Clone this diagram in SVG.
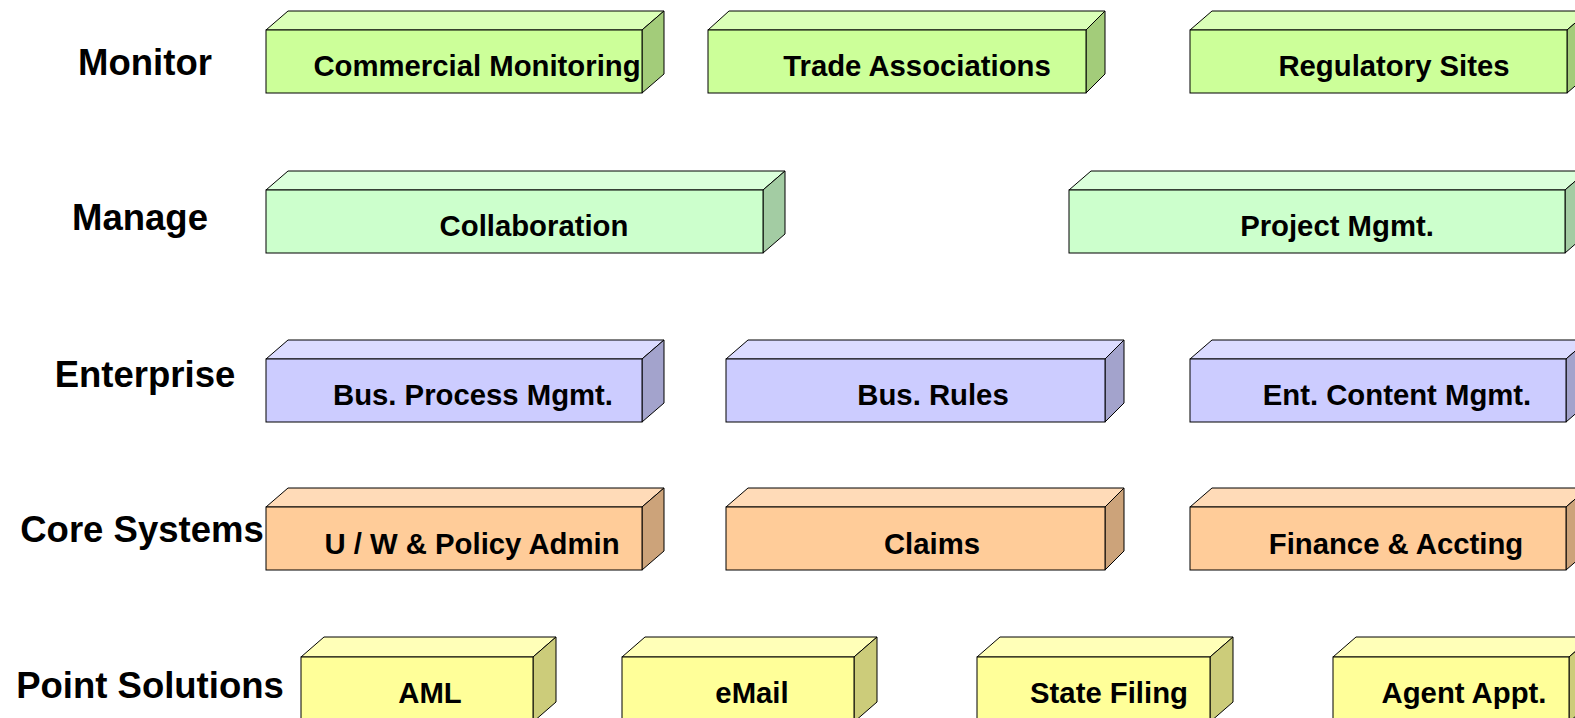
<svg xmlns="http://www.w3.org/2000/svg" width="1575" height="718" viewBox="0 0 1575 718">
<style>
  .lbl{font-family:"Liberation Sans",Arial,sans-serif;font-weight:bold;font-size:36.5px;fill:#000;text-anchor:middle}
  .txt{font-family:"Liberation Sans",Arial,sans-serif;font-weight:bold;font-size:29.3px;fill:#000;text-anchor:middle}
  .f,.t,.s{stroke:#000;stroke-width:1;stroke-linejoin:miter}
  .mon .f{fill:#CCFF99}.mon .t{fill:#DBFFB8}.mon .s{fill:#A3CC7A}
  .man .f{fill:#CCFFCC}.man .t{fill:#DBFFDB}.man .s{fill:#A3CCA3}
  .ent .f{fill:#CCCCFF}.ent .t{fill:#DBDBFF}.ent .s{fill:#A3A3CC}
  .cor .f{fill:#FFCC99}.cor .t{fill:#FFDBB8}.cor .s{fill:#CCA37A}
  .pnt .f{fill:#FFFF99}.pnt .t{fill:#FFFFB8}.pnt .s{fill:#CCCC7A}
</style>
<rect x="0" y="0" width="1575" height="718" fill="#ffffff"/>

<g id="row-labels">
  <text class="lbl" x="145" y="75">Monitor</text>
  <text class="lbl" x="140" y="230">Manage</text>
  <text class="lbl" x="145" y="387">Enterprise</text>
  <text class="lbl" x="142" y="542">Core Systems</text>
  <text class="lbl" x="150" y="698">Point Solutions</text>
</g>

<!-- Monitor row: front y 30..93 -->
<g id="commercial-monitoring" class="mon">
  <path class="t" d="M266,30 L288,11 L664,11 L642,30 Z"/>
  <path class="s" d="M642,30 L664,11 L664,74 L642,93 Z"/>
  <rect class="f" x="266" y="30" width="376" height="63"/>
  <text class="txt" x="477" y="76">Commercial Monitoring</text>
</g>
<g id="trade-associations" class="mon">
  <path class="t" d="M708,30 L729,11 L1105,11 L1086,30 Z"/>
  <path class="s" d="M1086,30 L1105,11 L1105,74 L1086,93 Z"/>
  <rect class="f" x="708" y="30" width="378" height="63"/>
  <text class="txt" x="917" y="76">Trade Associations</text>
</g>
<g id="regulatory-sites" class="mon">
  <path class="t" d="M1190,30 L1212,11 L1589,11 L1567,30 Z"/>
  <path class="s" d="M1567,30 L1589,11 L1589,74 L1567,93 Z"/>
  <rect class="f" x="1190" y="30" width="377" height="63"/>
  <text class="txt" x="1394" y="76">Regulatory Sites</text>
</g>

<!-- Manage row: front y 190..253 -->
<g id="collaboration" class="man">
  <path class="t" d="M266,190 L288,171 L785,171 L763,190 Z"/>
  <path class="s" d="M763,190 L785,171 L785,234 L763,253 Z"/>
  <rect class="f" x="266" y="190" width="497" height="63"/>
  <text class="txt" x="534" y="236">Collaboration</text>
</g>
<g id="project-mgmt" class="man">
  <path class="t" d="M1069,190 L1091,171 L1587,171 L1565,190 Z"/>
  <path class="s" d="M1565,190 L1587,171 L1587,234 L1565,253 Z"/>
  <rect class="f" x="1069" y="190" width="496" height="63"/>
  <text class="txt" x="1337" y="236">Project Mgmt.</text>
</g>

<!-- Enterprise row: front y 359..422 -->
<g id="bus-process-mgmt" class="ent">
  <path class="t" d="M266,359 L288,340 L664,340 L642,359 Z"/>
  <path class="s" d="M642,359 L664,340 L664,403 L642,422 Z"/>
  <rect class="f" x="266" y="359" width="376" height="63"/>
  <text class="txt" x="473" y="405">Bus. Process Mgmt.</text>
</g>
<g id="bus-rules" class="ent">
  <path class="t" d="M726,359 L748,340 L1124,340 L1105,359 Z"/>
  <path class="s" d="M1105,359 L1124,340 L1124,403 L1105,422 Z"/>
  <rect class="f" x="726" y="359" width="379" height="63"/>
  <text class="txt" x="933" y="405">Bus. Rules</text>
</g>
<g id="ent-content-mgmt" class="ent">
  <path class="t" d="M1190,359 L1212,340 L1588,340 L1566,359 Z"/>
  <path class="s" d="M1566,359 L1588,340 L1588,403 L1566,422 Z"/>
  <rect class="f" x="1190" y="359" width="376" height="63"/>
  <text class="txt" x="1397" y="405">Ent. Content Mgmt.</text>
</g>

<!-- Core Systems row: front y 507..570 -->
<g id="uw-policy-admin" class="cor">
  <path class="t" d="M266,507 L288,488 L664,488 L642,507 Z"/>
  <path class="s" d="M642,507 L664,488 L664,551 L642,570 Z"/>
  <rect class="f" x="266" y="507" width="376" height="63"/>
  <text class="txt" x="472" y="554">U / W &amp; Policy Admin</text>
</g>
<g id="claims" class="cor">
  <path class="t" d="M726,507 L748,488 L1124,488 L1105,507 Z"/>
  <path class="s" d="M1105,507 L1124,488 L1124,551 L1105,570 Z"/>
  <rect class="f" x="726" y="507" width="379" height="63"/>
  <text class="txt" x="932" y="554">Claims</text>
</g>
<g id="finance-accting" class="cor">
  <path class="t" d="M1190,507 L1212,488 L1588,488 L1566,507 Z"/>
  <path class="s" d="M1566,507 L1588,488 L1588,551 L1566,570 Z"/>
  <rect class="f" x="1190" y="507" width="376" height="63"/>
  <text class="txt" x="1396" y="554">Finance &amp; Accting</text>
</g>

<!-- Point Solutions row: front y 657.. -->
<g id="aml" class="pnt">
  <path class="t" d="M301,657 L324,637 L556,637 L533,657 Z"/>
  <path class="s" d="M533,657 L556,637 L556,702 L533,722 Z"/>
  <rect class="f" x="301" y="657" width="232" height="70"/>
  <text class="txt" x="430" y="703">AML</text>
</g>
<g id="email" class="pnt">
  <path class="t" d="M622,657 L645,637 L877,637 L854,657 Z"/>
  <path class="s" d="M854,657 L877,637 L877,702 L854,722 Z"/>
  <rect class="f" x="622" y="657" width="232" height="70"/>
  <text class="txt" x="752" y="703">eMail</text>
</g>
<g id="state-filing" class="pnt">
  <path class="t" d="M977,657 L1000,637 L1233,637 L1210,657 Z"/>
  <path class="s" d="M1210,657 L1233,637 L1233,702 L1210,722 Z"/>
  <rect class="f" x="977" y="657" width="233" height="70"/>
  <text class="txt" x="1109" y="703">State Filing</text>
</g>
<g id="agent-appt" class="pnt">
  <path class="t" d="M1333,657 L1356,637 L1592,637 L1569,657 Z"/>
  <path class="s" d="M1569,657 L1592,637 L1592,702 L1569,722 Z"/>
  <rect class="f" x="1333" y="657" width="236" height="70"/>
  <text class="txt" x="1464" y="703">Agent Appt.</text>
</g>

<g id="connectors"></g>
</svg>
